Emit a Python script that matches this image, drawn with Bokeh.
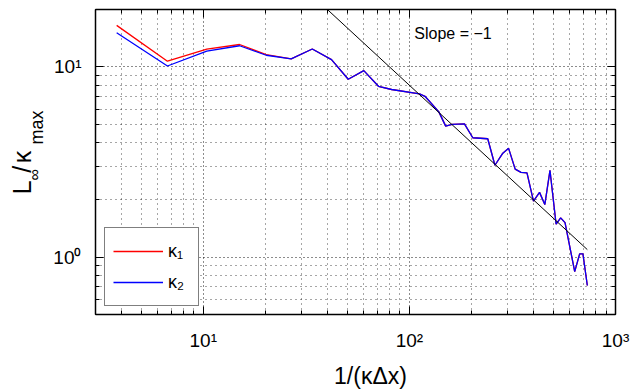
import numpy as np
from bokeh.plotting import figure
from bokeh.layouts import row, column
from bokeh.core.properties import value
from bokeh.models import (FixedTicker, CustomJSTickFormatter, LogAxis, Label,
                          Legend, LegendItem, Range1d)
from bokeh.embed import file_html
from bokeh.resources import INLINE

# ---------------- data ----------------
x_vals = [3.8, 6.7, 10.4, 15.0, 20.2, 26.7, 33.8, 41.9, 50.5, 60.1,
          70.8, 82, 112, 119, 139, 150, 161, 185, 203, 240,
          260, 284, 303, 326, 348, 372, 400, 428, 454, 481,
          515, 542, 569, 634, 670, 695, 730]
kappa1 = [16.5, 10.7, 12.4, 13.1, 11.6, 11.0, 12.4, 10.9, 8.6, 9.55,
          7.9, 7.6, 7.2, 7.0, 5.8, 4.88, 4.98, 5.01, 4.24, 4.19,
          3.04, 3.52, 3.73, 2.90, 2.79, 2.77, 1.97, 2.19, 1.89, 2.86,
          1.49, 1.61, 1.52, 0.84, 1.04, 1.04, 0.71]
kappa2 = [15.1, 10.1, 12.1, 12.9, 11.5, 11.0, 12.4, 10.9, 8.6, 9.55,
          7.9, 7.6, 7.2, 7.0, 5.8, 4.88, 4.98, 5.01, 4.24, 4.19,
          3.04, 3.52, 3.73, 2.90, 2.79, 2.77, 1.97, 2.19, 1.89, 2.86,
          1.49, 1.61, 1.52, 0.84, 1.04, 1.04, 0.71]
slope_x = [40, 730]
slope_y = [20.0, 1.096]
x_major = [10, 100, 1000]
y_major = [1, 10]
slope_text = "Slope = \u22121"
series_names = ["\u03ba\u2081", "\u03ba\u2082"]
x_title = "1/(\u03ba\u0394x)"
y_title_parts = ["L", "\u221e", "/", "\u03ba", "max"]

# ---------------- layout ----------------
XMIN, XMAX, YMIN, YMAX = 3, 1000, 0.5, 20
W, H = 630, 391
FL, FR, FT, FB = 93, 615, 9, 314     # frame edges in page pixels
YL_W = 50                             # width of the y-title strip
MAIN_H = 355                          # height of main figure
XL_H = H - MAIN_H                     # height of the x-title strip
FONT = "Liberation Sans"


def px2x(px):
    a, b = np.log10(XMIN), np.log10(XMAX)
    return 10 ** (a + (px - FL) / (FR - FL) * (b - a))


def py2y(py):
    a, b = np.log10(YMIN), np.log10(YMAX)
    return 10 ** (a + (FB - py) / (FB - FT) * (b - a))


p = figure(width=W - YL_W, height=MAIN_H, x_axis_type="log", y_axis_type="log",
           x_range=Range1d(XMIN, XMAX), y_range=Range1d(YMIN, YMAX),
           output_backend="svg", toolbar_location=None, title=None,
           min_border_left=FL - YL_W, min_border_right=W - FR,
           min_border_top=FT, min_border_bottom=MAIN_H - FB)
p.background_fill_color = "white"
p.border_fill_color = "white"
p.outline_line_color = "black"
p.outline_line_width = 1

x_minor = [m * 10 ** e for e in range(0, 3) for m in range(2, 10) if m * 10 ** e >= XMIN]
y_minor = [m / 10 for m in range(5, 10)] + [m for m in range(2, 10)] + [20]

fmt_code = """
const s = {"-1": "\u207b\u00b9", "0": "\u2070", "1": "\u00b9", "2": "\u00b2", "3": "\u00b3"};
const e = Math.round(Math.log10(tick));
return "10" + s[String(e)];
"""
blank_code = "return '';"


def style_axis(ax, ticker, labels):
    ax.ticker = ticker
    ax.axis_line_color = "black"
    ax.axis_line_width = 1.5
    ax.major_tick_in = 8
    ax.major_tick_out = 0
    ax.minor_tick_in = 4
    ax.minor_tick_out = 0
    ax.major_tick_line_color = "black"
    ax.minor_tick_line_color = "black"
    ax.axis_label = None
    if labels:
        ax.formatter = CustomJSTickFormatter(code=fmt_code)
        ax.major_label_text_font = FONT
        ax.major_label_text_font_size = "19px"
        ax.major_label_text_color = "black"
    else:
        ax.formatter = CustomJSTickFormatter(code=blank_code)
        ax.major_label_text_font_size = "0px"
        ax.major_label_standoff = 0


style_axis(p.below[0], FixedTicker(ticks=x_major, minor_ticks=x_minor), True)
p.below[0].major_label_standoff = 15
style_axis(p.left[0], FixedTicker(ticks=y_major, minor_ticks=y_minor), True)
p.left[0].major_label_standoff = 14

top_ax = LogAxis()
style_axis(top_ax, FixedTicker(ticks=x_major, minor_ticks=x_minor), False)
p.add_layout(top_ax, "above")
right_ax = LogAxis()
style_axis(right_ax, FixedTicker(ticks=y_major, minor_ticks=y_minor), False)
p.add_layout(right_ax, "right")

for g, t in ((p.xgrid[0], FixedTicker(ticks=x_major, minor_ticks=x_minor)),
             (p.ygrid[0], FixedTicker(ticks=y_major, minor_ticks=y_minor))):
    g.ticker = t
    g.grid_line_color = "black"
    g.grid_line_alpha = 0.9
    g.grid_line_dash = "1 3"
    g.grid_line_width = 1
    g.minor_grid_line_color = "black"
    g.minor_grid_line_alpha = 0.7
    g.minor_grid_line_dash = "1 4"
    g.minor_grid_line_width = 1

r1 = p.line(x_vals, kappa1, line_color="#ff0000", line_width=1.3)
r2 = p.line(x_vals, kappa2, line_color="#0000ff", line_width=1.3)
p.line(slope_x, slope_y, line_color="black", line_width=1)

legend = Legend(items=[LegendItem(label=series_names[0], renderers=[r1]),
                       LegendItem(label=series_names[1], renderers=[r2])],
                location=(9, 8), orientation="vertical")
legend.padding = 8
legend.margin = 0
legend.spacing = 1
legend.glyph_width = 50
legend.glyph_height = 30
legend.label_height = 30
legend.label_standoff = 5
legend.label_width = 22
legend.label_text_font = FONT
legend.label_text_font_size = "18px"
legend.label_text_color = "black"
legend.border_line_color = "black"
legend.border_line_width = 1
legend.background_fill_color = "white"
legend.background_fill_alpha = 1
p.add_layout(legend, "center")

p.add_layout(Label(x=px2x(413), y=py2y(32.5), text=slope_text,
                   text_font=FONT, text_font_size="16px",
                   text_align="left", text_baseline="middle",
                   text_color="black"))


def strip(w, h):
    f = figure(width=w, height=h, x_range=Range1d(0, w), y_range=Range1d(0, h),
               output_backend="svg", toolbar_location=None, title=None,
               x_axis_location=None, y_axis_location=None,
               min_border=0, min_border_left=0, min_border_right=0,
               min_border_top=0, min_border_bottom=0)
    f.outline_line_color = None
    f.xgrid.visible = False
    f.ygrid.visible = False
    f.background_fill_color = "white"
    f.border_fill_color = "white"
    return f


# y title strip (page pixels: x from left, y from top); anchor = middle of text
yl = strip(YL_W, MAIN_H)
for txt, cx, sy, fs in ((y_title_parts[0], 21, 215, "25px"),
                        (y_title_parts[1], 34, 199, "16px"),
                        (y_title_parts[2], 21, 190, "25px"),
                        (y_title_parts[3], 21, 179, "25px"),
                        (y_title_parts[4], 36, 157, "18px")):
    yl.text(x=[cx], y=[MAIN_H - sy], text=[txt], angle=np.pi / 2,
            text_font=value(FONT), text_font_size=value(fs),
            text_align="left", text_baseline="middle", text_color="black")

# x title strip
xl = strip(W, XL_H)
xl.text(x=[370], y=[H - 375.5], text=[x_title],
        text_font=value(FONT), text_font_size=value("23px"),
        text_align="center", text_baseline="middle", text_color="black")

layout = column(row(yl, p, spacing=0), xl, spacing=0)
open("out.html", "w").write(file_html(layout, INLINE))
